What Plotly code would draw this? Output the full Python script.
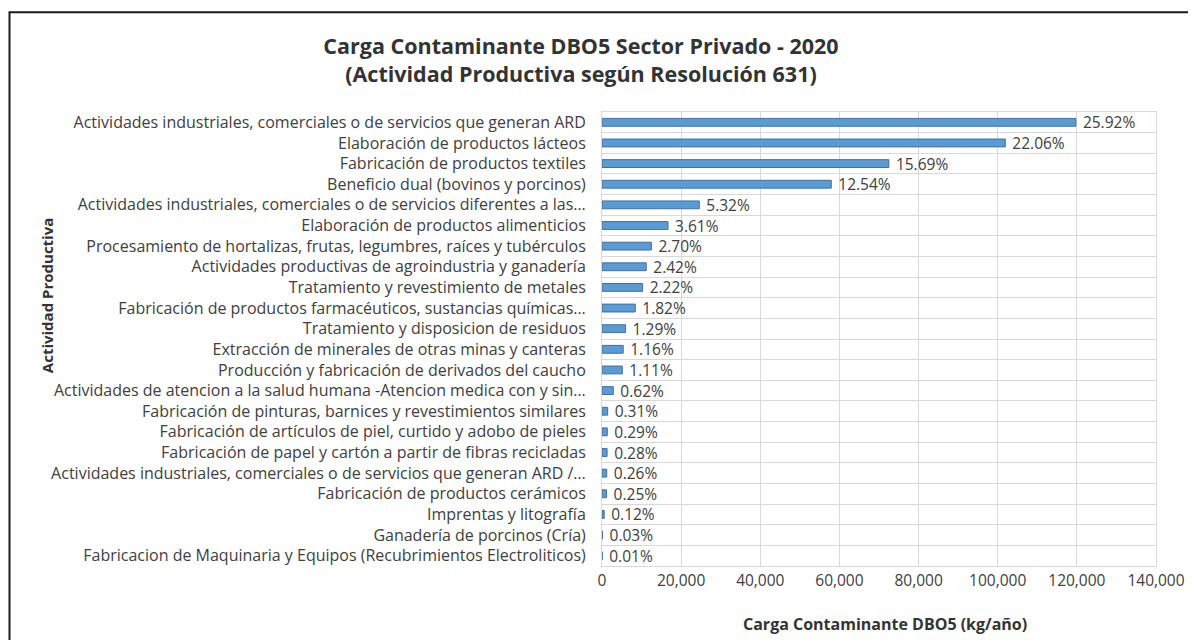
import plotly.graph_objects as go

categories = [
    "Actividades industriales, comerciales o de servicios que generan ARD",
    "Elaboración de productos lácteos",
    "Fabricación de productos textiles",
    "Beneficio dual (bovinos y porcinos)",
    "Actividades industriales, comerciales o de servicios diferentes a las…",
    "Elaboración de productos alimenticios",
    "Procesamiento de hortalizas, frutas, legumbres, raíces y tubérculos",
    "Actividades productivas de agroindustria y ganadería",
    "Tratamiento y revestimiento de metales",
    "Fabricación de productos farmacéuticos, sustancias químicas…",
    "Tratamiento y disposicion de residuos",
    "Extracción de minerales de otras minas y canteras",
    "Producción y fabricación de derivados del caucho",
    "Actividades de atencion a la salud humana -Atencion medica con y sin…",
    "Fabricación de pinturas, barnices y revestimientos similares",
    "Fabricación de artículos de piel, curtido y adobo de pieles",
    "Fabricación de papel y cartón a partir de fibras recicladas",
    "Actividades industriales, comerciales o de servicios que generan ARD /…",
    "Fabricación de productos cerámicos",
    "Imprentas y litografía",
    "Ganadería de porcinos (Cría)",
    "Fabricacion de Maquinaria y Equipos (Recubrimientos Electroliticos)",
]

carga_kg = [119750, 101920, 72490, 57940, 24580, 16680, 12470, 11180, 10260,
            8410, 5960, 5360, 5130, 2860, 1430, 1340, 1290, 1200, 1160, 550, 140, 50]

pct_labels = ["25.92%", "22.06%", "15.69%", "12.54%", "5.32%", "3.61%", "2.70%",
              "2.42%", "2.22%", "1.82%", "1.29%", "1.16%", "1.11%", "0.62%",
              "0.31%", "0.29%", "0.28%", "0.26%", "0.25%", "0.12%", "0.03%", "0.01%"]

FONT = "Open Sans"
TXT = "#404040"
DARK = "#333333"

# page offset (browser body margin)
OFF = 8
W, H = 1196 - OFF, 640 - OFF
# plot area in screen coordinates
PX0, PX1, PY0, PY1 = 602, 1156, 111.7, 566
L, R = PX0 - OFF, W - (PX1 - OFF)
T, B = PY0 - OFF, H - (PY1 - OFF)


def px(xs):
    return (xs - PX0) / (PX1 - PX0)


def py(ys):
    return (PY1 - ys) / (PY1 - PY0)


fig = go.Figure(go.Bar(
    x=carga_kg, y=categories, orientation="h",
    marker=dict(color="#5B9BD5", line=dict(color="#41719C", width=1)),
    text=pct_labels, texttemplate="\u00a0%{text}", textposition="outside",
    constraintext="none",
    textfont=dict(family=FONT, size=15.5, color=TXT),
    cliponaxis=False,
))

fig.update_layout(
    width=W, height=H,
    margin=dict(l=L, r=R, t=T, b=B, autoexpand=False),
    paper_bgcolor="white", plot_bgcolor="white",
    font=dict(family=FONT, color=TXT),
    showlegend=False,
    bargap=0.62,
    title=dict(
        text="<b>Carga Contaminante DBO5 Sector Privado - 2020<br>(Actividad Productiva según Resolución 631)</b>",
        x=(581 - OFF) / W, xanchor="center", xref="container",
        y=1 - (54 - OFF) / H, yanchor="middle", yref="container",
        font=dict(family=FONT, size=21.5, color=DARK),
    ),
    xaxis=dict(
        range=[0, 140000], dtick=20000, tickformat=",d",
        showgrid=True, gridcolor="#D9D9D9", gridwidth=1,
        showline=True, linecolor="#D9D9D9", mirror=True,
        zeroline=False, ticks="", ticklabelstandoff=0,
        tickfont=dict(family=FONT, size=15.5, color=TXT),
    ),
    yaxis=dict(
        type="category", categoryorder="array", categoryarray=categories,
        autorange="reversed",
        showgrid=True, gridcolor="#D9D9D9", tickson="boundaries",
        showline=True, linecolor="#D9D9D9", mirror=True,
        ticks="", ticklabelstandoff=12,
        tickfont=dict(family=FONT, size=16, color=TXT),
    ),
    annotations=[
        dict(
            text="<b>Actividad Productiva</b>", textangle=-90,
            xref="paper", yref="paper",
            x=px(47), y=py(296), xanchor="center", yanchor="middle",
            showarrow=False, font=dict(family=FONT, size=15, color=DARK),
        ),
        dict(
            text="<b>Carga Contaminante DBO5 (kg/año)</b>",
            xref="paper", yref="paper",
            x=px(885), y=py(624), xanchor="center", yanchor="middle",
            showarrow=False, font=dict(family=FONT, size=16, color=DARK),
        ),
    ],
    shapes=[dict(
        type="rect", xref="paper", yref="paper",
        x0=px(9.5), x1=px(1215), y0=py(680), y1=py(12),
        line=dict(color="#1a1a1a", width=2), fillcolor="rgba(0,0,0,0)",
        layer="below",
    )],
)

fig.write_html("out.html")
